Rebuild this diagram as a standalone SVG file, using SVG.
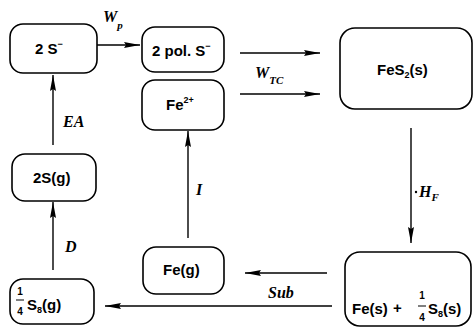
<svg xmlns="http://www.w3.org/2000/svg" width="474" height="328" viewBox="0 0 474 328">
<style>
.box{fill:#fff;stroke:#000;stroke-width:1.6}
.t{font-family:"Liberation Sans",Arial,sans-serif;font-size:15px;font-weight:bold;fill:#000}
.sm{font-size:9px}
.fr{font-family:"Liberation Sans",Arial,sans-serif;font-size:10px;font-weight:bold;fill:#000}
.lb{font-family:"Liberation Serif","Times New Roman",serif;font-style:italic;font-weight:bold;font-size:16px;fill:#000}
.ls{font-size:11px}
.c{stroke:#000;stroke-width:1.4;fill:none}
.bar{stroke:#000;stroke-width:1}
</style>
<defs>
<marker id="ah" markerUnits="userSpaceOnUse" markerWidth="17" markerHeight="7" refX="16" refY="3.5" orient="auto">
<path d="M0,0.5 L16,3.5 L0,6.5 L2,3.5 z" fill="#000"/>
</marker>
</defs>
<rect width="474" height="328" fill="#fff"/>
<g id="connectors">
<line class="c" x1="97" y1="45" x2="140" y2="45" marker-end="url(#ah)"/>
<line class="c" x1="240" y1="53" x2="320" y2="53" marker-end="url(#ah)"/>
<line class="c" x1="240" y1="94" x2="320" y2="94" stroke-width="2" marker-end="url(#ah)"/>
<line class="c" x1="53" y1="145" x2="53" y2="75" marker-end="url(#ah)"/>
<line class="c" x1="53" y1="270" x2="53" y2="202" marker-end="url(#ah)"/>
<line class="c" x1="188" y1="238" x2="188" y2="131" marker-end="url(#ah)"/>
<line class="c" x1="411" y1="128" x2="411" y2="243" marker-end="url(#ah)"/>
<line class="c" x1="327" y1="273" x2="245" y2="273" stroke-width="2" marker-end="url(#ah)"/>
<line class="c" x1="332" y1="306" x2="105" y2="306" marker-end="url(#ah)"/>
<text class="lb" x="103" y="22">W<tspan class="ls" dy="7">p</tspan></text>
<text class="lb" x="255" y="78">W<tspan class="ls" dy="6">TC</tspan></text>
<text class="lb" x="63" y="127">EA</text>
<text class="lb" x="65" y="252">D</text>
<text class="lb" x="196" y="195">I</text>
<circle cx="416" cy="192" r="1.2" fill="#000"/>
<text class="lb" x="419" y="197" font-size="15">H<tspan class="ls" dy="4">F</tspan></text>
<text class="lb" x="268" y="298" font-size="18">Sub</text>
</g>
<g id="n_2S">
<rect class="box" x="10" y="24" width="87" height="49" rx="13"/>
<text class="t" x="35" y="54">2 S<tspan class="sm" dy="-7">−</tspan></text>
</g>
<g id="n_polS">
<rect class="box" x="142" y="27" width="82" height="45" rx="13"/>
<text class="t" x="152" y="56">2 pol. S<tspan class="sm" dy="-7">−</tspan></text>
</g>
<g id="n_Fe2">
<rect class="box" x="142" y="80" width="82" height="50" rx="13"/>
<text class="t" x="166" y="110">Fe<tspan class="sm" dy="-7">2+</tspan></text>
</g>
<g id="n_FeS2">
<rect class="box" x="340" y="28" width="132" height="81" rx="15"/>
<text class="t" x="377" y="75">FeS<tspan class="sm" dy="3">2</tspan><tspan dy="-3">(s)</tspan></text>
</g>
<g id="n_2Sg">
<rect class="box" x="12" y="154" width="84" height="47" rx="13"/>
<text class="t" x="33" y="183">2S(g)</text>
</g>
<g id="n_S8g">
<rect class="box" x="10" y="279" width="84" height="45" rx="13"/>
<text class="fr" x="20" y="295" text-anchor="middle">1</text>
<line class="bar" x1="16" y1="300" x2="24" y2="300"/>
<text class="fr" x="20" y="315" text-anchor="middle">4</text>
<text class="t" x="27" y="310">S<tspan class="sm" dy="3">8</tspan><tspan dy="-3">(g)</tspan></text>
</g>
<g id="n_Feg">
<rect class="box" x="143" y="247" width="81" height="47" rx="13"/>
<text class="t" x="163" y="275">Fe(g)</text>
</g>
<g id="n_Fes">
<rect class="box" x="345" y="252" width="126" height="74" rx="15"/>
<text class="t" x="352" y="314" font-size="14">Fe(s)</text>
<text class="t" x="393" y="313" font-size="12">+</text>
<text class="fr" x="422" y="299" text-anchor="middle">1</text>
<line class="bar" x1="418" y1="306" x2="426" y2="306"/>
<text class="fr" x="422" y="321" text-anchor="middle">4</text>
<text class="t" x="428" y="314" font-size="14">S<tspan class="sm" dy="3">8</tspan><tspan dy="-3">(s)</tspan></text>
</g>
</svg>
